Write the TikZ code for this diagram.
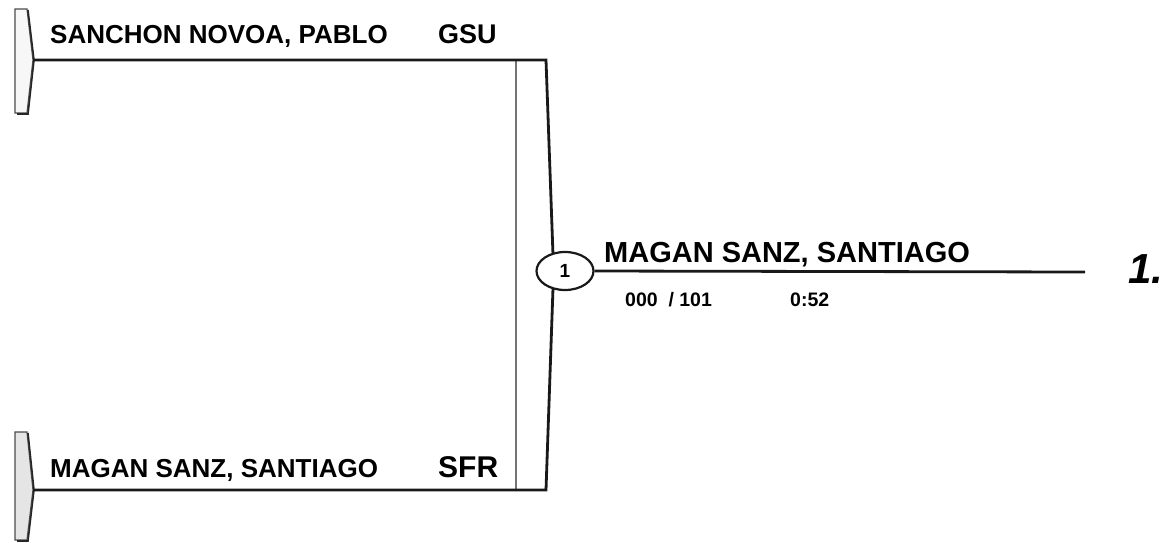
\documentclass[tikz,border=0pt]{standalone}
\usepackage{fontspec}
\setmainfont{Liberation Sans}
\usetikzlibrary{shapes.geometric}
\begin{document}
\begin{tikzpicture}[x=1pt,y=-1pt,
  wire/.style={line width=2.8pt, draw=black!90, line join=miter},
  innerline/.style={line width=1.3pt, draw=black!55},
  flagbox/.style={line width=1.2pt, draw=black!70, fill=#1},
  flagshade/.style={line width=1.6pt, draw=black!85},
  pname/.style={inner sep=0pt, anchor=base west, font=\fontsize{26}{26}\selectfont\bfseries},
  club/.style={inner sep=0pt, anchor=base west, font=\fontsize{#1}{#1}\selectfont\bfseries},
  wname/.style={inner sep=0pt, anchor=base west, font=\fontsize{29}{29}\selectfont\bfseries},
  scoretxt/.style={inner sep=0pt, anchor=base west, font=\fontsize{19.5}{19.5}\selectfont\bfseries},
  matchnode/.style={ellipse, draw=black!90, line width=2.2pt, fill=white, minimum width=57pt, minimum height=38pt, inner sep=0pt, font=\fontsize{19}{19}\selectfont\bfseries},
  ranktxt/.style={inner sep=0pt, anchor=base west, font=\fontsize{42}{42}\selectfont\bfseries\itshape}]
\useasboundingbox (0,0) rectangle (1166,542);
% left flags
\draw[flagbox=black!3] (15,9) -- (27,9) -- (33,60) -- (27,113) -- (15,113) -- cycle;
\draw[flagshade] (28,10) -- (34,60) -- (28,114) -- (17,114);
\draw[flagbox=black!10] (15,432) -- (27,432) -- (33,490) -- (27,540) -- (15,540) -- cycle;
\draw[flagshade] (28,433) -- (34,490) -- (28,541) -- (17,541);
% coordinates
\coordinate (a1) at (33,60);
\coordinate (a2) at (546,60);
\coordinate (b1) at (33,490);
\coordinate (b2) at (546,490);
\coordinate (i1) at (516,60);
\coordinate (i2) at (516,490);
\coordinate (w) at (1085,272);
% wires
\draw[innerline] (i1) -- (i2);
\draw[wire] (a1) -- (a2) -- (553,255);
\draw[wire] (b1) -- (b2) -- (553,288);
\node[matchnode] (m) at (565,271) {1};
\draw[wire] (m.east) -- (w);
% texts
\node[pname] (n1) at (50,43) {SANCHON NOVOA, PABLO};
\node[club=27] (c1) at (438,43) {GSU};
\node[pname] (n2) at (50,477) {MAGAN SANZ, SANTIAGO};
\node[club=30] (c2) at (438,477) {SFR};
\node[wname] (wn) at (604,262) {MAGAN SANZ, SANTIAGO};
\node[scoretxt] (s1) at (625,306) {000\ \ / 101};
\node[scoretxt] (s2) at (790,306) {0:52};
\node[ranktxt] (p) at (1128,283) {1.};
\end{tikzpicture}
\end{document}
